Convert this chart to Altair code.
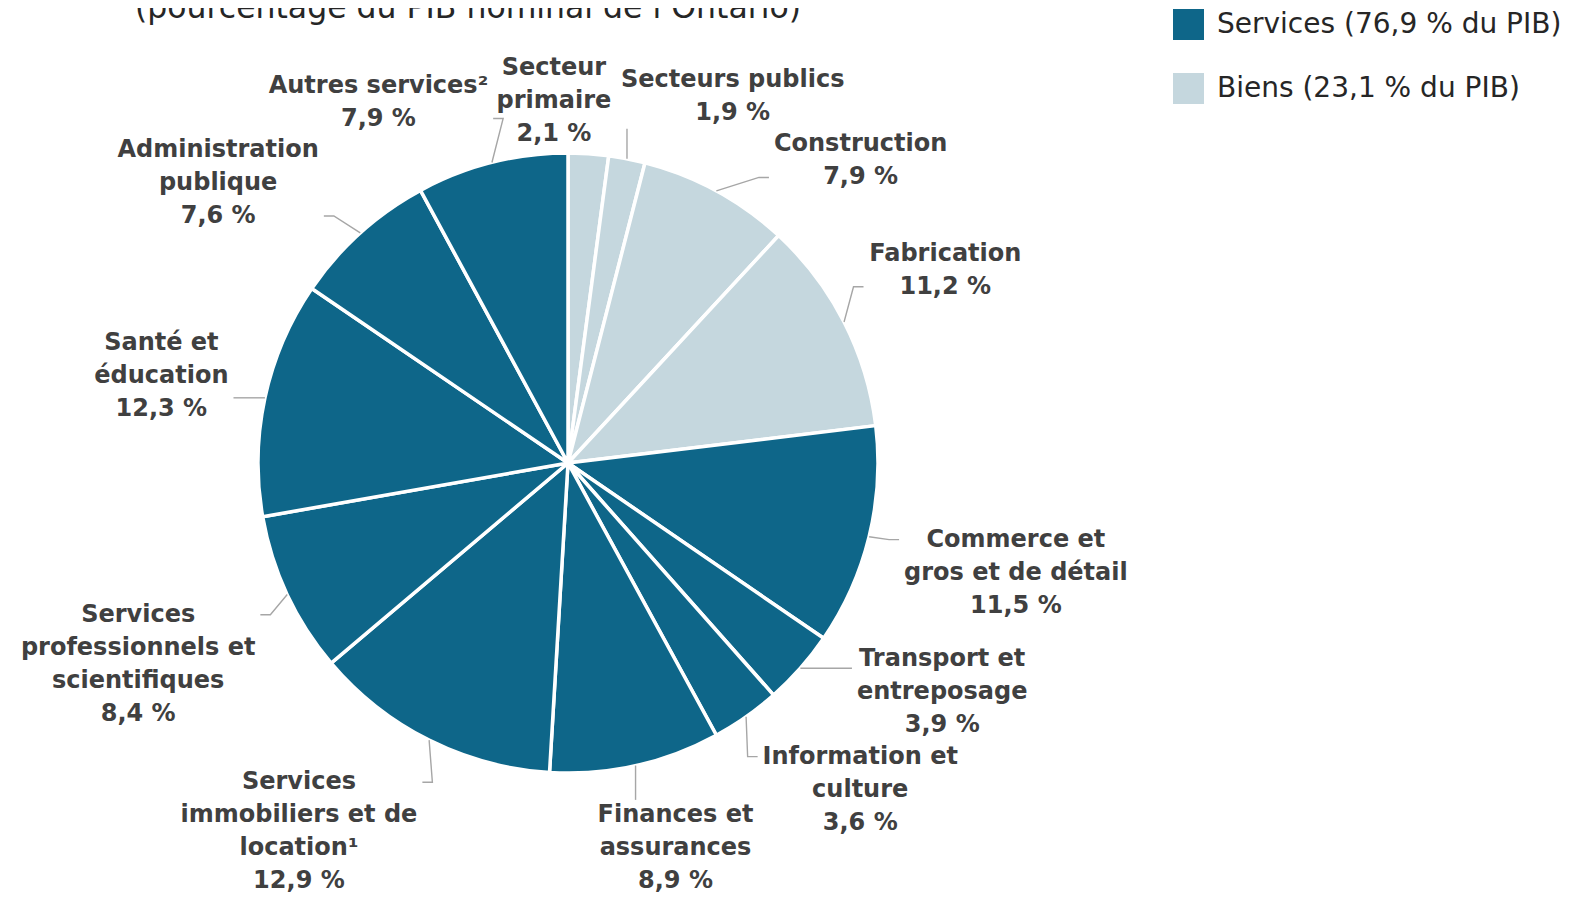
import math
import altair as alt
import pandas as pd

# ---------------- data ----------------
categories = [
    "Secteur\nprimaire", "Secteurs publics", "Construction", "Fabrication",
    "Commerce et\ngros et de détail", "Transport et\nentreposage",
    "Information et\nculture", "Finances et\nassurances",
    "Services\nimmobiliers et de\nlocation¹",
    "Services\nprofessionnels et\nscientifiques",
    "Santé et\néducation", "Administration\npublique", "Autres services²",
]
shares = [2.1, 1.9, 7.9, 11.2, 11.5, 3.9, 3.6, 8.9, 12.9, 8.4, 12.3, 7.6, 7.9]
groups = ["Biens", "Biens", "Biens", "Biens",
          "Services", "Services", "Services", "Services", "Services",
          "Services", "Services", "Services", "Services"]
group_names = ["Services", "Biens"]
group_legend = ["Services (76,9 % du PIB)", "Biens (23,1 % du PIB)"]
group_colors = ["#0E6689", "#C5D7DE"]
title_text = "(pourcentage du PIB nominal de l’Ontario)"

# ---------------- layout helpers ----------------
W, H = 1564, 890
CX, CY = 560, 455
R = 310
GAP = 30
FS = 24
LH = 33
TOP = 409      # highest allowed label top (math coords, y up from centre)
BOTTOM = -432  # lowest allowed label bottom

WID = {" ": .348, ",": .381, "%": 1.002, "A": .774, "C": .734, "F": .683, "I": .372,
       "S": .720, "a": .675, "b": .716, "c": .593, "d": .716, "e": .678, "é": .678,
       "f": .427, "g": .716, "i": .343, "l": .343, "m": 1.042, "n": .712, "o": .687,
       "p": .716, "q": .716, "r": .493, "s": .595, "t": .478, "u": .712, "v": .652,
       "¹": .438, "²": .438}
for dch in "0123456789":
    WID[dch] = .696


def tw(s):
    return sum(WID.get(ch, .68) for ch in s) * FS


def fmt(v):
    return f"{v:.1f}".replace(".", ",") + " %"


texts = [c + "\n" + fmt(v) for c, v in zip(categories, shares)]
nlines = [len(t.split("\n")) for t in texts]
hws = [max(tw(l) for l in t.split("\n")) / 2 + 2 for t in texts]
hhs = [k * LH / 2 - 3 for k in nlines]

total = sum(shares)
mids = []
cum = 0.0
for v in shares:
    mids.append((cum + v / 2) / total * 360)
    cum += v


def boxdist(cx, cy, hw, hh):
    return math.hypot(max(0, abs(cx) - hw), max(0, abs(cy) - hh))


def solve_r(sx, sy, hw, hh, target):
    lo, hi = 0.0, 900.0
    for _ in range(40):
        r = (lo + hi) / 2
        if boxdist(r * sx, r * sy, hw, hh) >= target:
            hi = r
        else:
            lo = r
    return hi


def place(theta, hw, hh):
    th = math.radians(theta)
    sx, sy = math.sin(th), math.cos(th)
    r = solve_r(sx, sy, hw, hh, R + GAP)
    if sy > 0 and r * sy + hh > TOP:
        r = max((TOP - hh) / sy, solve_r(sx, sy, hw, hh, R + 6))
    return r * sx, r * sy


def overlap(a, b, i, j, pad=4):
    return (abs(a[0] - b[0]) < hws[i] + hws[j] + pad and
            abs(a[1] - b[1]) < hhs[i] + hhs[j] + pad)


n = len(shares)
ang = list(mids)
for _ in range(4000):
    pos = [place(ang[i], hws[i], hhs[i]) for i in range(n)]
    moved = False
    for i in range(n):
        j = (i + 1) % n
        if overlap(pos[i], pos[j], i, j):
            ang[i] -= 0.25
            ang[j] += 0.25
            moved = True
        if pos[i][1] - hhs[i] < BOTTOM:
            ang[i] += 0.25 if ang[i] > 180 else -0.25
            moved = True
    if not moved:
        break
pos = [place(ang[i], hws[i], hhs[i]) for i in range(n)]

rows, lead = [], []
for i in range(n):
    th = math.radians(mids[i])
    px, py = R * math.sin(th), R * math.cos(th)
    lx, ly = pos[i]
    hw, hh = hws[i], hhs[i]
    if boxdist(px - lx, py - ly, hw, hh) > 20:
        if lx - hw <= px <= lx + hw:
            ey = ly + hh + 2 if py > ly else ly - hh - 2
            pts = [(px, py), (px, ey)]
        else:
            first, last = ly + (nlines[i] - 1) * LH / 2, ly - (nlines[i] - 1) * LH / 2
            yy = min(max(py, last), first)
            if lx > px:
                ex = lx - hw - 3
                pts = [(px, py), (ex - 10, yy), (ex, yy)]
            else:
                ex = lx + hw + 3
                pts = [(px, py), (ex + 10, yy), (ex, yy)]
        for k, (qx, qy) in enumerate(pts):
            lead.append(dict(idx=i, k=k, qx=qx, qy=qy))
    rows.append(dict(idx=i, share=shares[i],
                     group=group_legend[group_names.index(groups[i])],
                     label=texts[i], lx=lx,
                     # Vega anchors the first line of multi-line text: shift so the block is centred
                     ty=ly + (nlines[i] - 1) * LH / 2))
df = pd.DataFrame(rows)
dl = pd.DataFrame(lead)

xs = alt.Scale(domain=[-CX, W - CX], nice=False, zero=False)
ys = alt.Scale(domain=[CY - H, CY], nice=False, zero=False)

base = alt.Chart(df)

pie = base.mark_arc(outerRadius=R, stroke="white", strokeWidth=3.5).encode(
    theta=alt.Theta("share:Q", stack=True),
    order=alt.Order("idx:Q"),
    color=alt.Color("group:N",
                    scale=alt.Scale(domain=group_legend, range=group_colors),
                    legend=alt.Legend(title=None, orient="none", legendX=1165, legendY=1,
                                      symbolType="square", symbolSize=961,
                                      symbolStrokeWidth=0, symbolOpacity=1,
                                      labelFontSize=28, labelFont="DejaVu Sans",
                                      labelColor="#262626", labelOffset=13,
                                      rowPadding=33, padding=0, labelLimit=600)),
    x=alt.XDatum(0, type="quantitative", scale=xs, axis=None),
    y=alt.YDatum(0, type="quantitative", scale=ys, axis=None),
)

leaders = alt.Chart(dl).mark_line(color="#A6A6A6", strokeWidth=1.4).encode(
    x=alt.X("qx:Q", scale=xs, axis=None),
    y=alt.Y("qy:Q", scale=ys, axis=None),
    detail="idx:N",
    order="k:Q",
)

labels = base.mark_text(font="DejaVu Sans", fontWeight="bold", fontSize=FS,
                        lineHeight=LH, lineBreak="\n", align="center",
                        baseline="middle", color="#404040").encode(
    x=alt.X("lx:Q", scale=xs, axis=None),
    y=alt.Y("ty:Q", scale=ys, axis=None),
    text="label:N",
)

title = alt.Chart(pd.DataFrame({"t": [title_text]})).mark_text(
    font="DejaVu Sans", fontSize=31.5, align="center", baseline="alphabetic",
    color="#262626").encode(text="t:N", x=alt.value(460), y=alt.value(10))

chart = alt.layer(pie, leaders, labels, title).properties(
    width=W, height=H, autosize=alt.AutoSizeParams(type="none"), padding=0
).configure_view(strokeWidth=0)

chart.save("out.html", embed_options={"renderer": "svg", "actions": False})
